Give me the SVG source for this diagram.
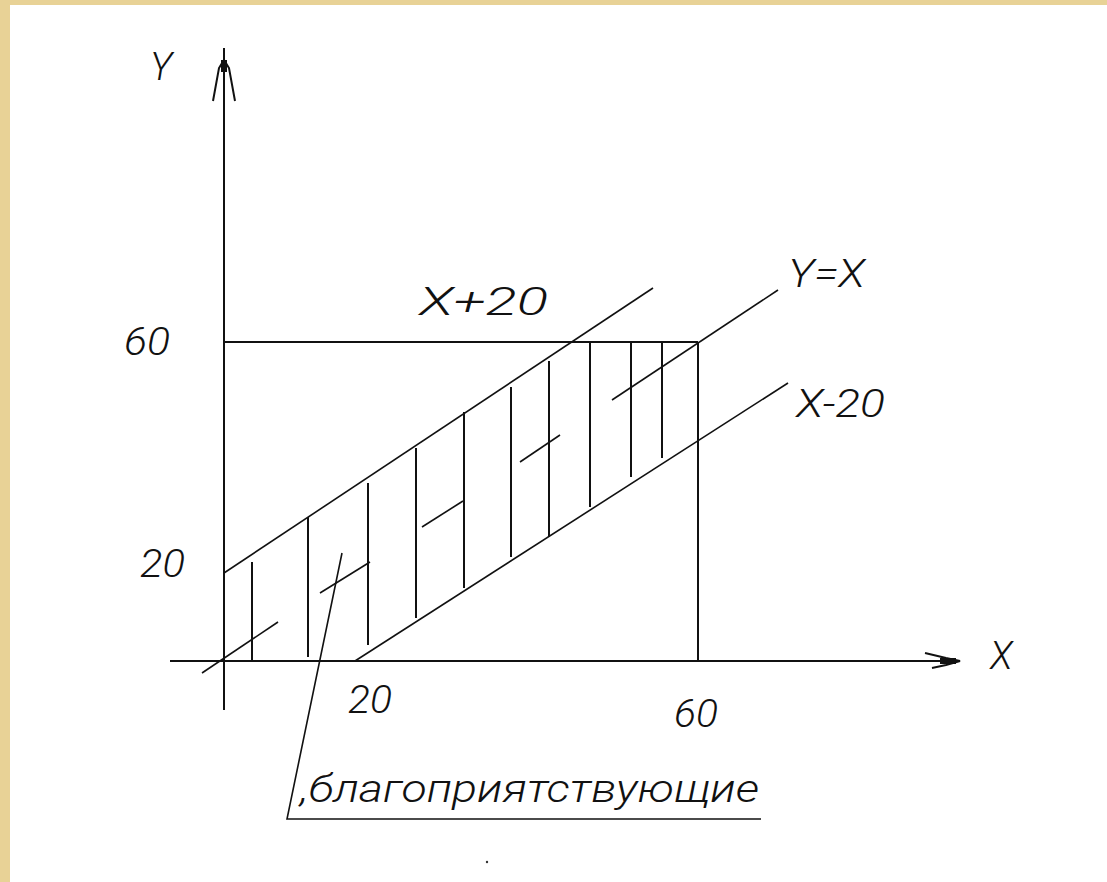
<svg xmlns="http://www.w3.org/2000/svg" width="1107" height="882" viewBox="0 0 1107 882">
<style>
.ln{stroke:#111;stroke-width:2;fill:none;stroke-linecap:butt}
.sl{stroke:#111;stroke-width:1.6;fill:none}
.lb{font-family:Roboto,Inter,"Liberation Sans",sans-serif;font-style:italic;font-weight:300;font-size:38px;fill:#111}
</style>
<rect x="0" y="0" width="1107" height="882" fill="#E8D296"/>
<rect x="10" y="5" width="1097" height="877" fill="#ffffff"/>
<g id="axes">
<line class="ln" x1="224" y1="48" x2="224" y2="710"/>
<path class="ln" d="M213,101 L219,68 L224,60 L229,68 L235,101"/>
<rect x="221" y="60" width="6" height="12" fill="#111"/>
<line class="ln" x1="170" y1="661" x2="960" y2="661"/>
<path class="ln" d="M925,653 L946,658 L960,661 L946,665 L932,668"/>
<rect x="940" y="658" width="16" height="6" fill="#111"/>
</g>
<g id="rectangle">
<line class="ln" x1="224" y1="342" x2="698" y2="342"/>
<line class="ln" x1="698" y1="342" x2="698" y2="661"/>
</g>
<g id="lines">
<line class="sl" x1="224" y1="573" x2="653" y2="288"/>
<line class="sl" x1="355" y1="661" x2="788" y2="383"/>
<line class="sl" x1="202" y1="673" x2="278" y2="622"/>
<line class="sl" x1="320" y1="593" x2="370" y2="562"/>
<line class="sl" x1="422" y1="527" x2="463" y2="501"/>
<line class="sl" x1="520" y1="462" x2="560" y2="435"/>
<line class="sl" x1="612" y1="400" x2="778" y2="290"/>
</g>
<g id="hatch">
<line class="ln" x1="252" y1="562" x2="252" y2="661"/>
<line class="ln" x1="308" y1="517" x2="308" y2="657"/>
<line class="ln" x1="368" y1="483" x2="368" y2="645"/>
<line class="ln" x1="416" y1="448" x2="416" y2="618"/>
<line class="ln" x1="464" y1="412" x2="464" y2="588"/>
<line class="ln" x1="511" y1="387" x2="511" y2="557"/>
<line class="ln" x1="549" y1="361" x2="549" y2="537"/>
<line class="ln" x1="590" y1="342" x2="590" y2="507"/>
<line class="ln" x1="631" y1="342" x2="631" y2="477"/>
<line class="ln" x1="662" y1="342" x2="662" y2="458"/>
</g>
<g id="leader">
<path class="sl" d="M342,553 L287,819 L761,819" stroke-width="2"/>
<text class="lb" x="300" y="802" textLength="459" lengthAdjust="spacingAndGlyphs">,благоприятствующие</text>
</g>
<g id="labels">
<text class="lb" x="150" y="80">Y</text>
<text class="lb" x="124" y="355" textLength="46" lengthAdjust="spacingAndGlyphs">60</text>
<text class="lb" x="140" y="577" textLength="45" lengthAdjust="spacingAndGlyphs">20</text>
<text class="lb" x="419" y="315" textLength="129" lengthAdjust="spacingAndGlyphs">X+20</text>
<text class="lb" x="788" y="287" textLength="77" lengthAdjust="spacingAndGlyphs">Y=X</text>
<text class="lb" x="796" y="417" textLength="89" lengthAdjust="spacingAndGlyphs">X-20</text>
<text class="lb" x="990" y="669">X</text>
<text class="lb" x="348" y="713" textLength="44" lengthAdjust="spacingAndGlyphs">20</text>
<text class="lb" x="674" y="727" textLength="44" lengthAdjust="spacingAndGlyphs">60</text>
</g>
<circle cx="487" cy="862" r="1.2" fill="#333"/>
</svg>
